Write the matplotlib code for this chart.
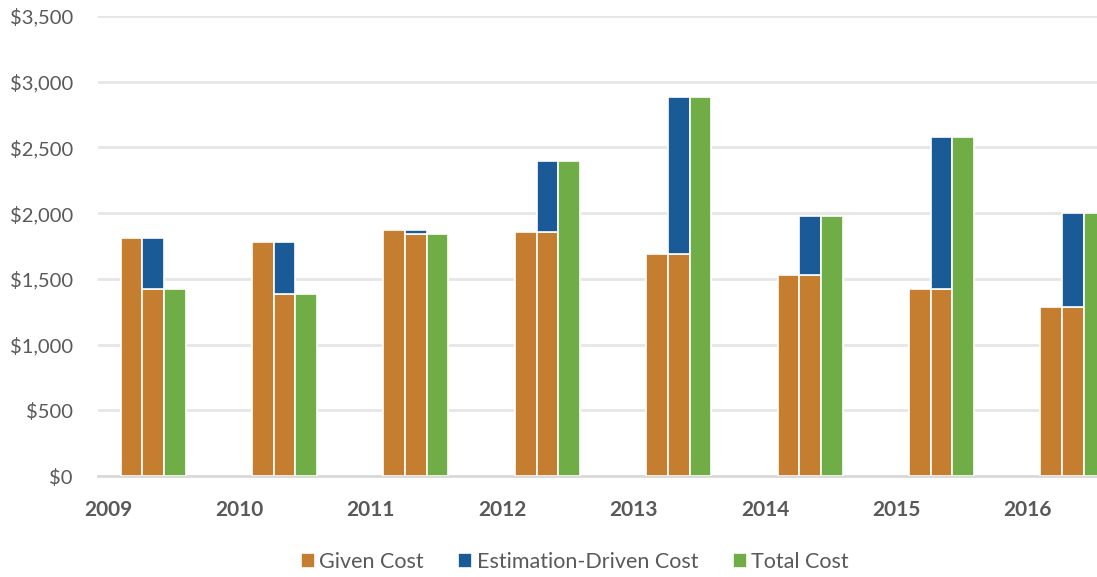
import numpy as np
import matplotlib.pyplot as plt
from matplotlib.ticker import FuncFormatter

# dados por ano
anos = ['2009', '2010', '2011', '2012', '2013', '2014', '2015', '2016']
given_cost = [1810, 1780, 1868, 1858, 1686, 1530, 1420, 1288]
given_base = [1420, 1384, 1842, 1858, 1686, 1530, 1420, 1284]
estimation_cost = [390, 396, 26, 538, 1200, 448, 1160, 719]
total_cost = [1420, 1384, 1842, 2396, 2886, 1978, 2580, 2003]

cor_given = '#C57E2F'
cor_est = '#1A5A96'
cor_total = '#70AD47'
cor_texto = '#595959'

plt.rcParams['font.family'] = ['Lato', 'DejaVu Sans']

fig = plt.figure(figsize=(10.97, 5.77), dpi=100)
ax = fig.add_axes([98 / 1097, 1 - 476 / 577, 1 - 98 / 1097, (476 - 16) / 577])

x = np.arange(len(anos))
larg = 0.165
off = 0.179

b1 = ax.bar(x + off, given_cost, larg, color=cor_given, edgecolor='white', linewidth=1.2, zorder=3)
ax.bar(x + off + larg, given_base, larg, color=cor_given, edgecolor='white', linewidth=1.2, zorder=3)
b2 = ax.bar(x + off + larg, estimation_cost, larg, bottom=given_base, color=cor_est,
            edgecolor='white', linewidth=1.2, zorder=3)
b3 = ax.bar(x + off + 2 * larg, total_cost, larg, color=cor_total, edgecolor='white', linewidth=1.2, zorder=3)

ax.set_ylim(0, 3500)
ax.set_xlim(-0.076, 7.527)
ax.set_yticks(np.arange(0, 3501, 500))
ax.yaxis.set_major_formatter(FuncFormatter(lambda v, p: '${:,.0f}'.format(v)))
ax.set_xticks(x)
ax.set_xticklabels(anos, fontweight='bold', fontsize=15, color=cor_texto)

ax.grid(axis='y', color='#E6E6E6', linewidth=2, zorder=0)
for s in ['top', 'right', 'left']:
    ax.spines[s].set_visible(False)
ax.spines['bottom'].set_color('#D9D9D9')
ax.spines['bottom'].set_linewidth(2)
ax.tick_params(axis='y', length=0, pad=18, labelsize=14.5, labelcolor=cor_texto)
ax.tick_params(axis='x', length=0, pad=17)

fig.legend([b1, b2, b3], ['Given Cost', 'Estimation-Driven Cost', 'Total Cost'],
           loc='lower center', bbox_to_anchor=(0.524, -0.025), ncol=3, frameon=False,
           fontsize=15.5, handlelength=0.65, handleheight=0.65, handletextpad=0.2,
           columnspacing=1.6, labelcolor=cor_texto)

fig.savefig('out.png', dpi=100)
